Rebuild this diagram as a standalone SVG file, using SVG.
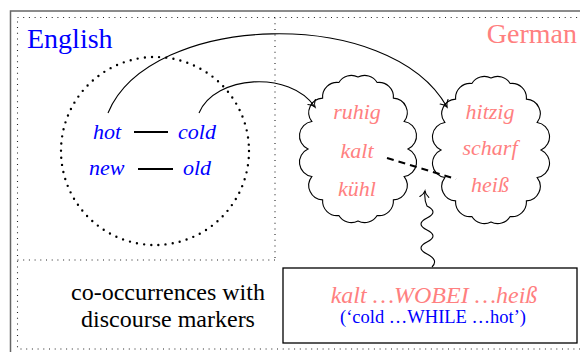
<svg xmlns="http://www.w3.org/2000/svg" width="580" height="352" viewBox="0 0 580 352">
<style>
.frame{fill:none;stroke:#666;stroke-width:1.5}
.dots{fill:none;stroke:#222;stroke-width:1.1;stroke-dasharray:1 4.7}
.circ{fill:none;stroke:#000;stroke-width:2.4;stroke-linecap:round;stroke-dasharray:0 7.2}
.en{font-family:"Liberation Serif","Times New Roman",serif;fill:#0000FF}
.de{font-family:"Liberation Serif","Times New Roman",serif;fill:#FF8080}
.it{font-style:italic}
.blk{font-family:"Liberation Serif","Times New Roman",serif;fill:#000}
.edge{fill:none;stroke:#000;stroke-width:1.1}
.cloud{fill:#fff;stroke:#000;stroke-width:1.1}
</style>
<defs>
<marker id="arr" markerUnits="userSpaceOnUse" markerWidth="12" markerHeight="12" refX="0" refY="0" viewBox="-7 -6 8 12" orient="auto" overflow="visible">
<path d="M-6,-4.5 C-4,-1.8 -1.5,-0.4 0,0 C-1.5,0.4 -4,1.8 -6,4.5" fill="none" stroke="#000" stroke-width="1.1" stroke-linecap="round"/>
</marker>
<path id="cloudShape" d="M50,0 A14.5,14.5 0 0 1 46.19,27.55 A14.5,14.5 0 0 1 35.36,50.91 A14.5,14.5 0 0 1 19.13,66.52 A14.5,14.5 0 0 1 0,72 A14.5,14.5 0 0 1 -19.13,66.52 A14.5,14.5 0 0 1 -35.36,50.91 A14.5,14.5 0 0 1 -46.19,27.55 A14.5,14.5 0 0 1 -50,0 A14.5,14.5 0 0 1 -46.19,-27.55 A14.5,14.5 0 0 1 -35.36,-50.91 A14.5,14.5 0 0 1 -19.13,-66.52 A14.5,14.5 0 0 1 0,-72 A14.5,14.5 0 0 1 19.13,-66.52 A14.5,14.5 0 0 1 35.36,-50.91 A14.5,14.5 0 0 1 46.19,-27.55 A14.5,14.5 0 0 1 50,0 Z"/>
</defs>
<rect width="580" height="352" fill="#fff"/>
<g id="frames">
<rect class="frame" x="10.5" y="11" width="620" height="400"/>
<rect class="dots" x="17.5" y="17.5" width="620" height="331.5"/>
<line class="dots" x1="275" y1="17.5" x2="275" y2="260"/>
<line class="dots" x1="17.5" y1="260" x2="275" y2="260"/>
</g>
<g id="english">
<text class="en" x="27" y="48" font-size="28">English</text>
<circle class="circ" cx="155" cy="151" r="94"/>
<text class="en it" x="93" y="139" font-size="22">hot</text>
<text class="en it" x="178" y="139" font-size="22">cold</text>
<text class="en it" x="89" y="175" font-size="22">new</text>
<text class="en it" x="183" y="175" font-size="22">old</text>
<line x1="134" y1="132" x2="168" y2="132" stroke="#000" stroke-width="2"/>
<line x1="138" y1="169" x2="173" y2="169" stroke="#000" stroke-width="2"/>
</g>
<g id="german">
<text class="de" x="577" y="43" font-size="28" text-anchor="end">German</text>
</g>
<g id="cloud1">
<use href="#cloudShape" class="cloud" transform="translate(358,149)"/>
<text class="de it" x="357" y="119" font-size="22" text-anchor="middle">ruhig</text>
<text class="de it" x="357" y="158" font-size="22" text-anchor="middle">kalt</text>
<text class="de it" x="357" y="196" font-size="22" text-anchor="middle">kühl</text>
</g>
<g id="cloud2">
<use href="#cloudShape" class="cloud" transform="translate(491,150)"/>
<text class="de it" x="490" y="119" font-size="22" text-anchor="middle">hitzig</text>
<text class="de it" x="490" y="155" font-size="22" text-anchor="middle">scharf</text>
<text class="de it" x="490" y="192" font-size="22" text-anchor="middle">heiß</text>
</g>
<g id="caption">
<text class="blk" x="168" y="300" font-size="24" text-anchor="middle">co-occurrences with</text>
<text class="blk" x="168" y="327" font-size="24" text-anchor="middle">discourse markers</text>
</g>
<g id="example">
<rect x="283" y="268" width="294" height="75" fill="#fff" stroke="#000" stroke-width="1.3"/>
<text class="de it" x="434" y="303" font-size="24" text-anchor="middle">kalt …WOBEI …heiß</text>
<text class="en" x="433" y="323" font-size="18.5" text-anchor="middle">(‘cold …WHILE …hot’)</text>
</g>
<g id="connectors">
<path class="edge" d="M108,113 C150,12 390,5 447,107" marker-end="url(#arr)"/>
<path class="edge" d="M199,113 C215,75 290,70 315,107" marker-end="url(#arr)"/>
<line x1="387" y1="158" x2="456" y2="179" stroke="#000" stroke-width="2" stroke-dasharray="7,5"/>
<path class="edge" d="M432,267 Q439,260 427,254 T427,242 T427,230 T427,218 T427,206 Q424,200 425,191" marker-end="url(#arr)"/>
</g>
</svg>
